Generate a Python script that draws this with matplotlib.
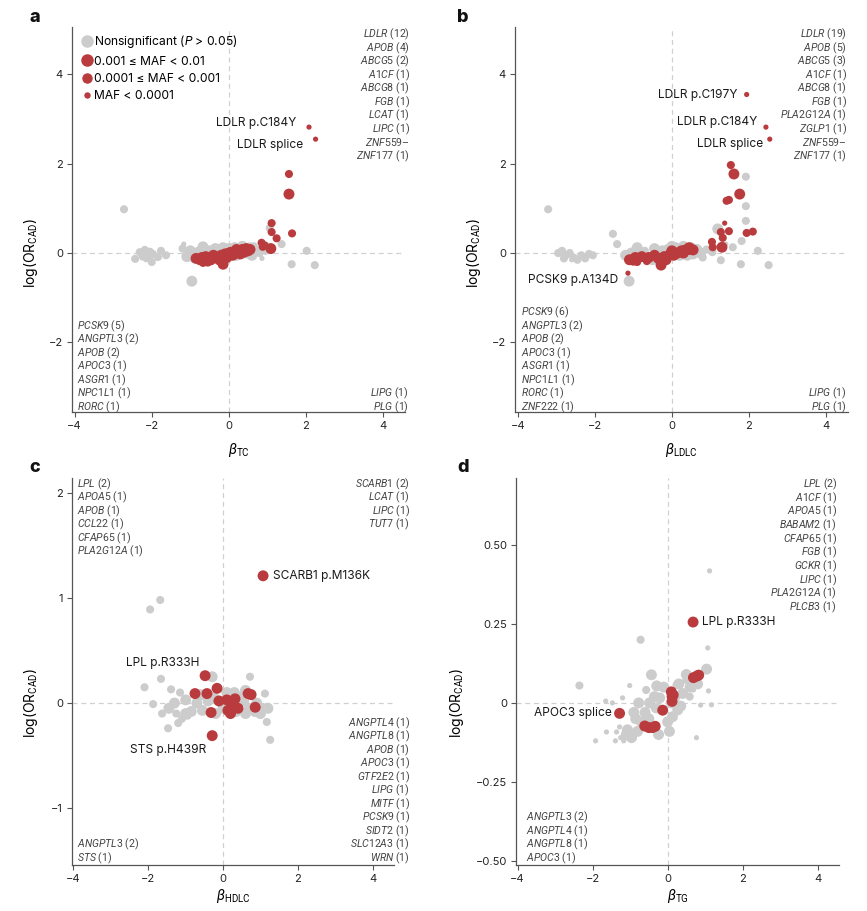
import matplotlib
matplotlib.use("Agg")
import matplotlib.pyplot as plt
from matplotlib.lines import Line2D

plt.rcParams["font.family"] = ["Inter", "DejaVu Sans"]
plt.rcParams["mathtext.fontset"] = "custom"
plt.rcParams["mathtext.rm"] = "Roboto"
plt.rcParams["mathtext.it"] = "Roboto:italic"
plt.rcParams["mathtext.bf"] = "Roboto:bold"

RED = "#BA3B3E"
GREY = "#CCCCCC"
SIZES = {"s": 14, "m": 34, "l": 62}

# ---- panel a: beta_TC vs log(OR_CAD) ----
a_grey = [
    (-2.72, 0.98, "m"),
    (-2.43, -0.13, "m"), (-2.31, 0.02, "m"), (-2.18, 0.07, "m"), (-2.23, -0.08, "m"),
    (-2.10, -0.08, "m"), (-2.05, 0.03, "m"), (-1.97, -0.02, "m"), (-2.0, -0.2, "m"),
    (-1.84, -0.09, "m"), (-1.76, 0.05, "m"), (-1.63, -0.05, "m"), (-2.15, -0.15, "s"),
    (-1.17, 0.2, "s"), (-0.96, -0.63, "l"), (-1.09, -0.08, "l"), (-1.0, 0.05, "l"),
    (-0.9, -0.1, "l"), (-0.67, 0.14, "l"), (-0.8, 0.05, "m"), (-0.5, 0.05, "l"),
    (-0.35, 0.1, "l"), (-0.2, 0.08, "l"), (0.0, 0.1, "l"), (0.15, 0.12, "l"),
    (0.35, 0.15, "l"), (0.55, 0.12, "l"), (0.7, 0.05, "l"), (0.8, 0.0, "m"),
    (0.86, -0.12, "s"), (0.6, -0.05, "l"), (0.95, 0.05, "m"), (1.06, 0.56, "m"),
    (1.37, 0.2, "m"), (1.63, -0.25, "m"), (2.02, 0.05, "m"), (2.23, -0.27, "m"),
    (-0.6, -0.15, "m"), (0.2, -0.05, "l"), (-0.3, -0.1, "l"), (1.0, 0.15, "m"),
    (-0.75, -0.05, "l"), (0.45, 0.0, "l"), (-0.15, 0.12, "l"), (0.65, 0.15, "m"),
    (-1.2, 0.1, "m"),
]
a_red = [
    (-0.85, -0.12, "l"), (-0.75, -0.15, "l"), (-0.67, -0.22, "m"), (-0.6, -0.08, "l"),
    (-0.5, -0.12, "l"), (-0.4, -0.05, "l"), (-0.3, -0.1, "l"), (-0.15, -0.25, "l"),
    (-0.2, -0.05, "l"), (-0.1, -0.02, "l"), (0.0, 0.0, "l"), (0.1, -0.05, "l"),
    (0.15, 0.02, "l"), (0.25, 0.05, "l"), (0.35, 0.08, "l"), (0.45, 0.1, "l"),
    (0.5, 0.05, "l"), (0.55, 0.08, "l"), (0.3, -0.02, "l"), (-0.45, -0.18, "m"),
    (0.05, 0.05, "m"), (-0.7, -0.1, "l"), (-0.55, -0.18, "l"), (-0.25, -0.15, "l"),
    (0.4, 0.02, "l"), (0.2, 0.08, "l"), (-0.05, -0.1, "l"),
    (0.85, 0.23, "m"), (0.88, 0.14, "m"), (0.95, 0.2, "s"), (1.09, 0.1, "l"),
    (1.11, 0.67, "m"), (1.11, 0.47, "m"), (1.24, 0.33, "m"), (1.64, 0.44, "m"),
    (1.56, 1.77, "m"), (1.56, 1.32, "l"), (2.08, 2.82, "s"), (2.25, 2.55, "s"),
]

# ---- panel b: beta_LDLC ----
b_grey = [
    (-3.21, 0.98, "m"),
    (-2.95, 0.0, "m"), (-2.85, 0.05, "m"), (-2.75, -0.05, "m"), (-2.65, 0.0, "m"),
    (-2.55, -0.1, "m"), (-2.45, -0.15, "m"), (-2.35, -0.05, "m"), (-2.25, -0.12, "m"),
    (-2.15, -0.02, "m"), (-2.05, -0.05, "m"), (-2.6, -0.15, "s"), (-2.8, -0.12, "m"),
    (-1.53, 0.43, "m"), (-1.42, 0.2, "m"), (-1.11, -0.63, "l"),
    (-1.2, -0.05, "l"), (-1.05, 0.0, "l"), (-0.9, 0.12, "l"), (-0.7, 0.05, "m"),
    (-0.45, 0.1, "l"), (-0.25, 0.05, "l"), (-0.1, 0.08, "l"), (0.1, 0.12, "l"),
    (0.3, 0.15, "l"), (0.5, 0.12, "l"), (0.65, 0.08, "l"), (0.8, -0.1, "m"),
    (0.9, 0.08, "m"), (1.19, 0.54, "l"), (1.92, 1.71, "m"), (1.92, 1.05, "m"),
    (1.92, 0.72, "m"), (1.81, 0.27, "m"), (1.58, 0.13, "m"), (2.23, 0.05, "m"),
    (1.79, -0.25, "m"), (2.51, -0.27, "m"), (1.27, -0.16, "m"), (1.05, 0.02, "m"),
    (-0.5, -0.15, "l"), (0.2, -0.05, "l"), (0.55, -0.02, "l"), (1.4, 0.2, "s"),
    (-0.8, 0.0, "l"), (0.0, 0.15, "l"), (0.75, 0.0, "l"), (0.4, -0.05, "l"),
]
b_red = [
    (-1.14, -0.45, "s"), (-1.1, -0.15, "l"), (-1.0, -0.16, "l"), (-0.9, -0.2, "m"),
    (-0.78, -0.08, "l"), (-0.6, -0.1, "l"), (-0.45, -0.05, "l"), (-0.35, -0.12, "l"),
    (-0.28, -0.27, "l"), (-0.2, -0.08, "l"), (-0.05, -0.03, "l"), (0.05, -0.05, "l"),
    (0.15, 0.0, "l"), (0.25, 0.05, "l"), (0.35, 0.07, "l"), (0.45, 0.08, "l"),
    (0.55, 0.07, "l"), (0.1, 0.03, "m"), (-0.95, -0.1, "l"), (-0.65, -0.18, "m"),
    (-0.15, -0.15, "l"), (0.3, 0.0, "l"), (0.45, 0.12, "l"), (0.0, 0.05, "l"),
    (1.04, 0.25, "m"), (1.06, 0.13, "m"), (1.3, 0.13, "l"), (1.32, 0.34, "m"),
    (1.27, 0.47, "m"), (1.48, 0.49, "m"), (1.37, 0.67, "s"), (1.94, 0.45, "m"),
    (2.1, 0.48, "m"), (1.48, 1.19, "m"), (1.42, 1.17, "m"), (1.76, 1.32, "l"),
    (1.61, 1.77, "l"), (1.53, 1.97, "m"), (1.94, 3.55, "s"), (2.44, 2.82, "s"),
    (2.54, 2.55, "s"),
]

# ---- panel c: beta_HDLC ----
c_grey = [
    (-1.95, 0.89, "m"), (-1.68, 0.98, "m"), (-2.1, 0.15, "m"), (-1.87, -0.01, "m"),
    (-1.66, 0.23, "m"), (-1.63, -0.1, "m"), (-1.47, -0.24, "m"), (-1.39, 0.13, "m"),
    (-1.2, -0.19, "m"), (-1.15, 0.1, "m"), (-1.1, -0.15, "m"), (-1.3, 0.0, "l"),
    (-1.0, 0.03, "l"), (-0.85, -0.08, "l"), (-0.7, 0.0, "l"), (-0.55, -0.07, "l"),
    (-0.4, 0.02, "l"), (-0.29, 0.25, "l"), (-0.2, -0.1, "l"), (0.0, -0.05, "l"),
    (0.2, 0.05, "l"), (0.35, -0.08, "l"), (0.55, 0.02, "l"), (0.7, -0.05, "l"),
    (0.85, -0.08, "l"), (1.0, -0.1, "l"), (0.6, 0.12, "l"), (0.72, 0.25, "m"),
    (1.12, 0.09, "m"), (1.17, -0.18, "m"), (1.26, -0.35, "m"), (1.2, -0.05, "l"),
    (-1.45, -0.05, "l"), (-0.95, -0.12, "m"), (0.3, 0.1, "l"),
    (-1.0, -0.1, "l"), (-0.6, 0.08, "l"), (0.1, 0.1, "l"), (0.45, 0.05, "l"),
    (0.9, 0.0, "l"), (1.05, -0.05, "l"), (-0.25, 0.05, "l"), (-1.25, -0.1, "m"),
    (0.6, -0.1, "l"),
]
c_red = [
    (1.07, 1.21, "l"), (-0.48, 0.26, "l"), (-0.75, 0.09, "l"), (-0.43, 0.09, "l"),
    (-0.16, 0.14, "l"), (-0.32, -0.09, "l"), (-0.11, 0.02, "l"), (0.1, 0.03, "l"),
    (0.13, -0.07, "l"), (0.25, 0.0, "l"), (0.32, 0.04, "l"), (0.4, -0.05, "l"),
    (0.2, -0.1, "l"), (0.67, 0.09, "l"), (0.75, 0.08, "l"), (0.86, -0.04, "l"),
    (-0.29, -0.31, "l"),
]

# ---- panel d: beta_TG ----
d_grey = [
    (1.12, 0.418, "s"), (-0.72, 0.2, "m"), (1.07, 0.174, "s"), (1.04, 0.107, "l"),
    (-0.43, 0.089, "l"), (0.5, 0.073, "m"), (-2.35, 0.055, "m"), (-1.01, 0.055, "s"),
    (-0.57, 0.041, "m"), (-0.29, 0.054, "l"), (0.24, 0.057, "m"), (0.69, 0.041, "s"),
    (1.09, 0.038, "s"), (0.88, -0.007, "s"), (1.17, -0.006, "s"), (0.59, 0.02, "m"),
    (-1.65, 0.006, "s"), (-1.47, 0.0, "s"), (-1.2, 0.016, "s"), (-0.77, 0.0, "l"),
    (-1.28, -0.076, "s"), (-1.63, -0.092, "s"), (-1.36, -0.092, "s"), (-1.25, -0.11, "s"),
    (-1.07, -0.085, "l"), (-0.96, -0.11, "l"), (-1.92, -0.12, "s"), (-1.39, -0.12, "s"),
    (-1.17, -0.12, "s"), (-0.24, -0.1, "l"), (0.77, -0.11, "s"), (-0.48, 0.0, "l"),
    (-0.3, -0.016, "l"), (0.27, -0.022, "l"), (0.13, -0.044, "l"), (-0.21, 0.016, "l"),
    (0.4, 0.03, "l"), (0.5, 0.09, "l"), (-0.6, -0.03, "l"), (-0.85, -0.05, "l"),
    (0.0, -0.06, "l"), (0.3, 0.06, "l"), (-0.1, 0.05, "l"), (-0.8, -0.09, "l"),
    (-0.7, -0.06, "l"), (-0.5, -0.05, "l"), (0.1, 0.0, "l"), (0.2, 0.02, "l"),
    (0.35, -0.01, "l"), (0.6, 0.05, "l"), (0.8, 0.06, "l"), (-1.1, -0.1, "l"),
    (-0.9, -0.03, "l"), (-0.35, 0.02, "l"), (0.05, -0.09, "l"),
]
d_red = [
    (0.68, 0.256, "l"), (0.69, 0.08, "l"), (0.78, 0.085, "l"), (0.83, 0.088, "l"),
    (0.1, 0.035, "l"), (0.12, 0.02, "l"), (0.12, 0.005, "l"), (0.15, 0.025, "l"),
    (-0.13, -0.023, "l"), (-1.28, -0.033, "l"), (-0.61, -0.073, "l"), (-0.5, -0.078, "l"),
    (-0.4, -0.078, "l"), (-0.33, -0.074, "l"),
]

# gene count lists (name, count)
a_top_right = [("LDLR", 12), ("APOB", 4), ("ABCG5", 2), ("A1CF", 1), ("ABCG8", 1),
               ("FGB", 1), ("LCAT", 1), ("LIPC", 1), ("ZNF559–", None), ("ZNF177", 1)]
a_bottom_left = [("PCSK9", 5), ("ANGPTL3", 2), ("APOB", 2), ("APOC3", 1), ("ASGR1", 1),
                 ("NPC1L1", 1), ("RORC", 1)]
a_bottom_right = [("LIPG", 1), ("PLG", 1)]
b_top_right = [("LDLR", 19), ("APOB", 5), ("ABCG5", 3), ("A1CF", 1), ("ABCG8", 1),
               ("FGB", 1), ("PLA2G12A", 1), ("ZGLP1", 1), ("ZNF559–", None), ("ZNF177", 1)]
b_bottom_left = [("PCSK9", 6), ("ANGPTL3", 2), ("APOB", 2), ("APOC3", 1), ("ASGR1", 1),
                 ("NPC1L1", 1), ("RORC", 1), ("ZNF222", 1)]
b_bottom_right = [("LIPG", 1), ("PLG", 1)]
c_top_left = [("LPL", 2), ("APOA5", 1), ("APOB", 1), ("CCL22", 1), ("CFAP65", 1),
              ("PLA2G12A", 1)]
c_top_right = [("SCARB1", 2), ("LCAT", 1), ("LIPC", 1), ("TUT7", 1)]
c_bottom_right = [("ANGPTL4", 1), ("ANGPTL8", 1), ("APOB", 1), ("APOC3", 1), ("GTF2E2", 1),
                  ("LIPG", 1), ("MITF", 1), ("PCSK9", 1), ("SIDT2", 1), ("SLC12A3", 1),
                  ("WRN", 1)]
c_bottom_left = [("ANGPTL3", 2), ("STS", 1)]
d_top_right = [("LPL", 2), ("A1CF", 1), ("APOA5", 1), ("BABAM2", 1), ("CFAP65", 1),
               ("FGB", 1), ("GCKR", 1), ("LIPC", 1), ("PLA2G12A", 1), ("PLCB3", 1)]
d_bottom_left = [("ANGPTL3", 2), ("ANGPTL4", 1), ("ANGPTL8", 1), ("APOC3", 1)]

W, H = 867, 911
fig = plt.figure(figsize=(W / 100, H / 100), dpi=100)


def fx(px):
    return px / W


def fy(py):
    return 1 - py / H


def gene_text(name, n):
    if name.endswith("–"):
        return rf"$\mathit{{{name[:-1]}}}$–"
    return rf"$\mathit{{{name}}}$ ({n})"


def gene_list(genes, x, y, ha, from_bottom=False, step=13.5):
    if from_bottom:
        y = y - (len(genes) - 1) * step
    for i, (name, n) in enumerate(genes):
        fig.text(fx(x), fy(y + i * step), gene_text(name, n), ha=ha, va="center",
                 fontsize=7.6, color="#444444", family="Roboto")


def draw_panel(ax, grey, red, xlim, ylim, yticks, yticklabels, xlab, ylab_pos, xlab_y):
    ax.axhline(0, color="#d0d0d0", lw=0.9, ls=(0, (4, 3)), zorder=0)
    ax.axvline(0, color="#d0d0d0", lw=0.9, ls=(0, (4, 3)), zorder=0)
    gx, gy, gs = zip(*grey)
    ax.scatter(gx, gy, s=[SIZES[k] for k in gs], color=GREY, lw=0, zorder=2)
    rx, ry, rs = zip(*red)
    ax.scatter(rx, ry, s=[SIZES[k] for k in rs], color=RED, lw=0, zorder=3)
    ax.set_xlim(*xlim)
    ax.set_ylim(*ylim)
    ax.set_xticks([-4, -2, 0, 2, 4])
    ax.set_yticks(yticks)
    ax.set_yticklabels(yticklabels)
    for side in ["top", "right"]:
        ax.spines[side].set_visible(False)
    for side in ["left", "bottom"]:
        ax.spines[side].set_color("#555555")
        ax.spines[side].set_linewidth(0.9)
    ax.tick_params(length=3.5, width=0.8, color="#555555", labelsize=8,
                   labelcolor="#222222", pad=3)
    ax.set_xlabel(xlab, fontsize=10)
    ax.set_ylabel(r"log(OR$_{\mathrm{CAD}}$)", fontsize=10)
    ax.xaxis.set_label_coords(0.5, xlab_y)
    ax.yaxis.set_label_coords(*ylab_pos)


def label(ax, text, xy, off, ha):
    ax.annotate(text, xy=xy, xytext=off, textcoords="offset points", ha=ha, va="center",
                fontsize=8.6, color="#1a1a1a", zorder=5)


ab_yticks = [-2, 0, 2, 4]
ab_ylabels = ["−2", "0", "2", "4"]

ax_a = fig.add_axes([0.0830, 0.5477, 0.3841, 0.4226])
draw_panel(ax_a, a_grey, a_red, (-4.07, 4.57), (-3.56, 5.06), ab_yticks, ab_ylabels,
           r"$\beta_{\mathrm{TC}}$", (-0.096, 0.413), -0.075)
label(ax_a, "LDLR p.C184Y", (2.08, 2.82), (-9, 3), "right")
label(ax_a, "LDLR splice", (2.25, 2.55), (-9, -4.3), "right")

handles = [
    Line2D([], [], marker="o", ls="", color=GREY, markersize=8),
    Line2D([], [], marker="o", ls="", color=RED, markersize=8),
    Line2D([], [], marker="o", ls="", color=RED, markersize=6.5),
    Line2D([], [], marker="o", ls="", color=RED, markersize=3.6),
]
labels = [r"Nonsignificant ($\mathit{P}$ > 0.05)", "0.001 ≤ MAF < 0.01",
          "0.0001 ≤ MAF < 0.001", "MAF < 0.0001"]
ax_a.legend(handles, labels, loc="upper left", bbox_to_anchor=(0.01, 1.0), frameon=False,
            fontsize=8.7, handlelength=0.9, handletextpad=0.15, labelspacing=0.45,
            borderaxespad=0.3, borderpad=0.2)

ax_b = fig.add_axes([0.5940, 0.5477, 0.3841, 0.4226])
draw_panel(ax_b, b_grey, b_red, (-4.07, 4.57), (-3.56, 5.06), ab_yticks, ab_ylabels,
           r"$\beta_{\mathrm{LDLC}}$", (-0.096, 0.413), -0.075)
label(ax_b, "LDLR p.C197Y", (1.94, 3.55), (-6.5, -0.7), "right")
label(ax_b, "LDLR p.C184Y", (2.44, 2.82), (-6.5, 3.8), "right")
label(ax_b, "LDLR splice", (2.54, 2.55), (-5, -3.8), "right")
label(ax_b, "PCSK9 p.A134D", (-1.11, -0.63), (-8, 0.7), "right")

ax_c = fig.add_axes([0.0830, 0.0505, 0.3714, 0.4248])
draw_panel(ax_c, c_grey, c_red, (-4.04, 4.57), (-1.54, 2.14), [-1, 0, 1, 2],
           ["−1", "0", "1", "2"], r"$\beta_{\mathrm{HDLC}}$", (-0.1, 0.419), -0.058)
label(ax_c, "SCARB1 p.M136K", (1.07, 1.21), (7, 0), "left")
label(ax_c, "LPL p.R333H", (-0.48, 0.26), (-4.3, 9.4), "right")
label(ax_c, "STS p.H439R", (-0.29, -0.31), (-4.3, -10), "right")

ax_d = fig.add_axes([0.5952, 0.0505, 0.3725, 0.4248])
draw_panel(ax_d, d_grey, d_red, (-4.04, 4.57), (-0.513, 0.712),
           [-0.5, -0.25, 0, 0.25, 0.5], ["−0.50", "−0.25", "0", "0.25", "0.50"],
           r"$\beta_{\mathrm{TG}}$", (-0.155, 0.419), -0.058)
label(ax_d, "LPL p.R333H", (0.68, 0.256), (6.5, 0), "left")
label(ax_d, "APOC3 splice", (-1.28, -0.033), (-5.8, 0), "right")

# gene lists
gene_list(a_top_right, 410, 34.5, "right")
gene_list(a_bottom_left, 77, 407.3, "left", from_bottom=True)
gene_list(a_bottom_right, 409, 407.3, "right", from_bottom=True)
gene_list(b_top_right, 847, 34.5, "right")
gene_list(b_bottom_left, 521, 407.3, "left", from_bottom=True)
gene_list(b_bottom_right, 847, 407.3, "right", from_bottom=True)
gene_list(c_top_left, 77, 484.3, "left")
gene_list(c_top_right, 410, 484.3, "right")
gene_list(c_bottom_right, 410, 858.3, "right", from_bottom=True)
gene_list(c_bottom_left, 77, 858.3, "left", from_bottom=True)
gene_list(d_top_right, 837, 484.3, "right", step=13.7)
gene_list(d_bottom_left, 526, 858.3, "left", from_bottom=True)

# panel letters
for letter, x, y in [("a", 35, 18), ("b", 463, 18), ("c", 35, 467), ("d", 463, 467)]:
    fig.text(fx(x), fy(y), letter, fontsize=13, fontweight="heavy", ha="center",
             va="center", color="#111111")

fig.savefig("out.png", dpi=100)
